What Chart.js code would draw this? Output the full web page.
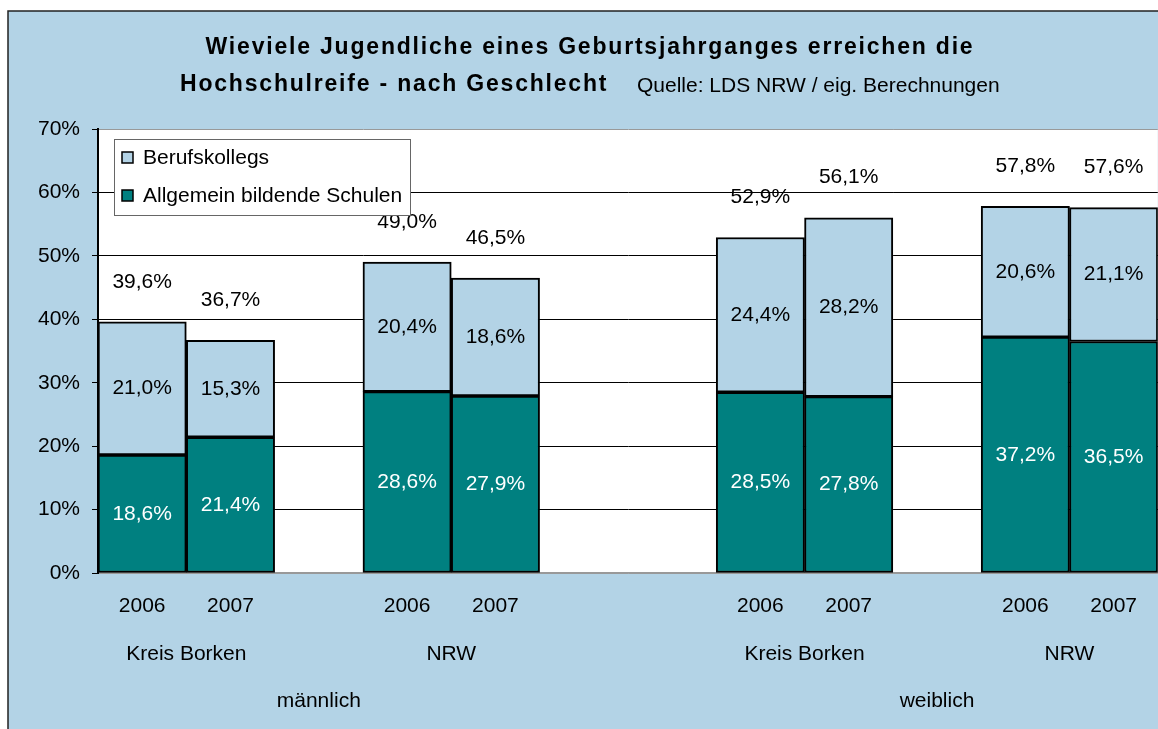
<!DOCTYPE html>
<html>
<head>
<meta charset="utf-8">
<script src="https://cdn.jsdelivr.net/npm/chart.js@4.4.1/dist/chart.umd.min.js"></script>
<style>
    html, body { margin: 0; padding: 0; background: #fff; }
    #wrap { width: 1158px; height: 729px; position: relative; }
</style>
</head>
<body>
<div id="wrap"><canvas id="grafico"></canvas></div>
<script>
// Daten
const jahre = ['2006', '2007', '', '2006', '2007', '', '', '2006', '2007', '', '2006', '2007'];
const regionen = [
    { text: 'Kreis Borken', von: 0, bis: 1 },
    { text: 'NRW', von: 3, bis: 4 },
    { text: 'Kreis Borken', von: 7, bis: 8 },
    { text: 'NRW', von: 10, bis: 11 }
];
const geschlecht = [
    { text: 'männlich', von: 0, bis: 4 },
    { text: 'weiblich', von: 7, bis: 11 }
];
const allgemein = [18.6, 21.4, null, 28.6, 27.9, null, null, 28.5, 27.8, null, 37.2, 36.5];
const berufskollegs = [21.0, 15.3, null, 20.4, 18.6, null, null, 24.4, 28.2, null, 20.6, 21.1];
const gesamt = [39.6, 36.7, null, 49.0, 46.5, null, null, 52.9, 56.1, null, 57.8, 57.6];
const yTicks = [0, 10, 20, 30, 40, 50, 60, 70];

const hellblau = 'rgb(179, 211, 230)';
const tuerkis = '#008080';
const schrift = '"Liberation Sans", Arial, sans-serif';
const groesse = 21;

function fmt(v) {
    return v.toFixed(1).replace('.', ',') + '%';
}

// Hintergrund, Titel, Legende, Beschriftungen
const zeichnen = {
    id: 'zeichnen',
    beforeDraw(chart) {
        const ctx = chart.ctx;
        const a = chart.chartArea;
        ctx.save();
        ctx.fillStyle = hellblau;
        ctx.fillRect(8, 11, chart.width - 8, chart.height - 11);
        ctx.strokeStyle = '#222';
        ctx.lineWidth = 1.5;
        ctx.beginPath();
        ctx.moveTo(8, chart.height);
        ctx.lineTo(8, 11);
        ctx.lineTo(chart.width, 11);
        ctx.stroke();
        ctx.fillStyle = '#fff';
        ctx.fillRect(a.left, a.top, a.right - a.left, a.bottom - a.top);
        ctx.restore();
    },
    afterDatasetsDraw(chart) {
        const ctx = chart.ctx;
        const a = chart.chartArea;
        const x = chart.scales.x;
        const y = chart.scales.y;
        ctx.save();
        ctx.textAlign = 'center';
        ctx.textBaseline = 'middle';
        ctx.font = groesse + 'px ' + schrift;

        // Werte in den Segmenten
        chart.data.datasets.forEach((ds, i) => {
            const meta = chart.getDatasetMeta(i);
            ctx.fillStyle = i === 0 ? '#fff' : '#000';
            meta.data.forEach((el, j) => {
                if (ds.data[j] == null) return;
                ctx.fillText(fmt(ds.data[j]), el.x, (el.y + el.base) / 2);
            });
        });

        // Summen
        ctx.fillStyle = '#000';
        gesamt.forEach((v, j) => {
            if (v == null) return;
            ctx.fillText(fmt(v), x.getPixelForValue(j), y.getPixelForValue(v) - 40);
        });

        // Regionen und Geschlecht
        regionen.forEach(r => {
            const px = (x.getPixelForValue(r.von) + x.getPixelForValue(r.bis)) / 2;
            ctx.fillText(r.text, px, a.bottom + 81);
        });
        geschlecht.forEach(g => {
            const px = (x.getPixelForValue(g.von) + x.getPixelForValue(g.bis)) / 2;
            ctx.fillText(g.text, px, a.bottom + 128);
        });

        // Titel
        ctx.font = 'bold 23px ' + schrift;
        ctx.letterSpacing = '1.8px';
        ctx.fillText('Wieviele Jugendliche eines Geburtsjahrganges erreichen die', 590, 48);
        ctx.textAlign = 'left';
        ctx.fillText('Hochschulreife - nach Geschlecht', 180, 85);
        ctx.letterSpacing = '0px';
        ctx.font = '21px ' + schrift;
        ctx.fillText('Quelle: LDS NRW / eig. Berechnungen', 637, 86);

        // Legende
        ctx.fillStyle = '#fff';
        ctx.fillRect(114, 139, 296, 76);
        ctx.strokeStyle = '#666';
        ctx.lineWidth = 1;
        ctx.strokeRect(114.5, 139.5, 296, 76);
        const eintraege = [['Berufskollegs', hellblau, 158], ['Allgemein bildende Schulen', tuerkis, 196]];
        eintraege.forEach(e => {
            ctx.fillStyle = e[1];
            ctx.fillRect(122, e[2] - 6, 11, 11);
            ctx.strokeStyle = '#000';
            ctx.lineWidth = 1.5;
            ctx.strokeRect(122, e[2] - 6, 11, 11);
            ctx.fillStyle = '#000';
            ctx.font = groesse + 'px ' + schrift;
            ctx.fillText(e[0], 143, e[2]);
        });
        ctx.restore();
    }
};

const ctx = document.getElementById('grafico').getContext('2d');
const grafik = new Chart(ctx, {
    type: 'bar',
    data: {
        labels: jahre,
        datasets: [
            {
                label: 'Allgemein bildende Schulen',
                data: allgemein,
                backgroundColor: tuerkis,
                borderColor: '#000',
                borderWidth: 2,
                borderSkipped: false
            },
            {
                label: 'Berufskollegs',
                data: berufskollegs,
                backgroundColor: hellblau,
                borderColor: '#000',
                borderWidth: 2,
                borderSkipped: false
            }
        ]
    },
    options: {
        responsive: true,
        maintainAspectRatio: false,
        animation: false,
        layout: { padding: { top: 129, left: 0, right: 0, bottom: 0 } },
        datasets: { bar: { categoryPercentage: 1, barPercentage: 1 } },
        plugins: {
            legend: { display: false },
            title: { display: false },
            tooltip: { enabled: false }
        },
        scales: {
            x: {
                stacked: true,
                grid: { display: false, drawTicks: false },
                border: { display: true, color: '#999', width: 1.5 },
                ticks: {
                    color: '#000',
                    padding: 21,
                    font: { family: schrift, size: groesse }
                },
                afterFit(scale) { scale.height = 156; }
            },
            y: {
                stacked: true,
                min: 0,
                max: 70,
                afterBuildTicks(scale) { scale.ticks = yTicks.map(v => ({ value: v })); },
                grid: {
                    color: c => (c.tick && (c.tick.value === 70 || c.tick.value === 0)) ? '#999' : '#000',
                    tickColor: '#000',
                    tickLength: 6,
                    lineWidth: 1
                },
                border: { color: '#000', width: 2 },
                ticks: {
                    color: '#000',
                    padding: 12,
                    font: { family: schrift, size: groesse },
                    callback: v => v + '%'
                },
                afterFit(scale) { scale.width = 98; }
            }
        }
    },
    plugins: [zeichnen]
});
</script>
</body>
</html>
